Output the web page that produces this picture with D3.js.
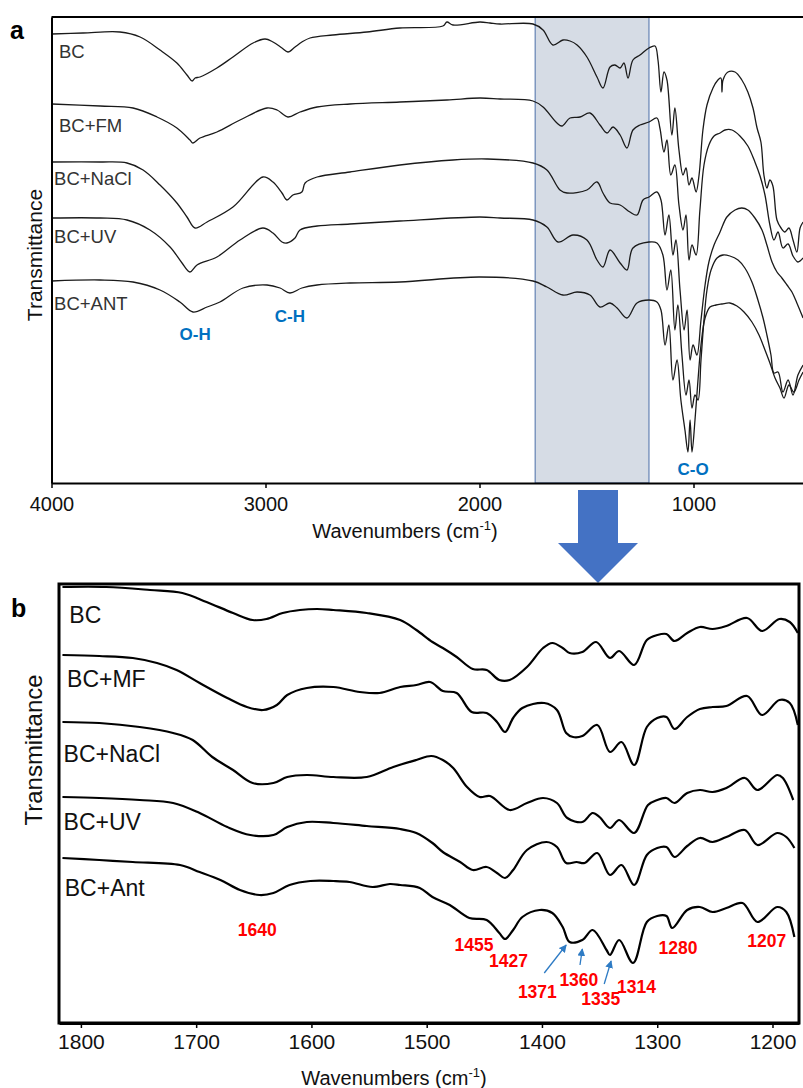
<!DOCTYPE html>
<html>
<head>
<meta charset="utf-8">
<script src="https://cdn.jsdelivr.net/npm/d3@7"></script>
<style>
  body { margin: 0; background: #fff; }
  svg { display: block; font-family: "Liberation Sans", Arial, sans-serif; }
</style>
</head>
<body>
<svg id="chart" width="803" height="1088"></svg>
<script>
// ---- data: [wavenumber cm-1, transmittance (a.u., spectra offset)] ----
const seriesA = ["BC", "BC+FM", "BC+NaCl", "BC+UV", "BC+ANT"];
const bcA = [[3998,89.8],[3853,90.0],[3680,90.2],[3586,89.2],[3493,86.6],[3414,84.0],[3367,81.6],[3343,80.4],[3329,81.0],[3306,81.2],[3227,83.0],[3152,85.2],[3058,88.0],[3002,88.8],[2965,88.2],[2923,87.0],[2895,86.2],[2862,87.2],[2830,88.2],[2792,89.0],[2685,89.6],[2526,90.2],[2372,91.0],[2171,91.4],[2152,92.2],[2124,91.6],[1998,92.2],[1951,92.0],[1904,91.8],[1750,91.8],[1703,90.6],[1657,87.6],[1610,88.6],[1577,88.4],[1544,87.6],[1498,85.2],[1451,81.2],[1423,79.0],[1390,83.2],[1367,83.6],[1343,83.0],[1325,84.0],[1306,81.0],[1283,84.6],[1250,85.6],[1208,87.0],[1180,87.4],[1166,84.6],[1152,78.2],[1138,82.2],[1124,80.6],[1101,69.6],[1087,75.0],[1068,66.6],[1049,61.6],[1035,63.0],[1021,59.6],[1007,61.0],[988,58.2],[974,61.6],[956,70.6],[937,75.6],[909,79.0],[886,80.6],[872,81.0],[867,78.2],[862,80.6],[839,82.2],[806,82.2],[774,80.6],[746,78.2],[722,75.0],[703,71.0],[685,68.2],[671,61.6],[657,59.0],[643,60.6],[629,59.4],[610,52.6],[591,51.0],[573,50.2],[554,51.0],[535,48.6],[517,46.2],[502,51.0],[488,52.2]];
const fmA = [[3998,75.8],[3773,75.4],[3619,75.0],[3507,73.2],[3414,71.0],[3353,68.6],[3339,68.0],[3306,69.0],[3227,70.2],[3119,72.6],[2993,75.0],[2946,74.6],[2895,73.2],[2839,74.2],[2759,75.2],[2605,75.8],[2372,76.2],[2152,76.6],[1998,77.0],[1904,76.8],[1750,76.4],[1703,75.2],[1638,72.0],[1615,71.4],[1577,73.0],[1530,73.2],[1484,74.0],[1437,71.6],[1404,70.0],[1376,71.2],[1343,69.6],[1311,67.0],[1283,70.6],[1250,71.6],[1208,72.2],[1171,73.0],[1157,71.0],[1138,66.2],[1124,68.6],[1106,61.6],[1087,63.6],[1068,55.6],[1049,50.6],[1035,53.6],[1021,44.6],[1007,47.6],[988,45.6],[970,54.6],[951,63.6],[928,67.6],[904,69.4],[876,70.0],[853,70.6],[820,70.6],[783,69.4],[746,67.4],[713,64.2],[689,61.4],[666,57.6],[643,51.6],[624,48.6],[605,50.2],[582,47.0],[558,47.8],[535,45.4],[512,44.2],[488,45.0]];
const naclA = [[3998,64.2],[3773,64.2],[3647,64.0],[3572,62.6],[3493,59.6],[3414,56.0],[3367,53.2],[3329,51.0],[3273,52.2],[3152,55.2],[3012,61.2],[2965,60.2],[2923,58.0],[2900,56.6],[2872,57.6],[2830,58.2],[2815,60.0],[2759,61.2],[2605,62.2],[2372,63.6],[2124,64.6],[1965,64.8],[1750,64.0],[1685,62.6],[1624,58.6],[1591,58.0],[1498,58.6],[1451,60.2],[1423,58.0],[1390,56.0],[1343,55.6],[1297,54.2],[1264,53.6],[1236,56.6],[1208,57.2],[1171,58.2],[1152,56.6],[1133,49.6],[1115,53.6],[1096,45.6],[1082,48.6],[1063,38.6],[1044,30.6],[1030,34.6],[1016,24.6],[1002,27.6],[984,25.6],[965,32.6],[946,39.6],[928,44.2],[904,47.6],[876,50.2],[844,53.2],[806,54.6],[774,55.0],[746,54.6],[713,53.0],[680,50.6],[657,47.6],[633,44.2],[610,42.2],[587,41.0],[563,39.6],[540,38.2],[517,36.0],[488,33.0]];
const uvA = [[3998,53.0],[3773,53.0],[3647,52.6],[3540,50.6],[3446,47.2],[3390,44.0],[3353,42.2],[3320,43.6],[3227,45.2],[3119,48.6],[3012,51.0],[2965,50.0],[2923,48.2],[2900,48.0],[2862,49.0],[2839,50.6],[2759,51.4],[2605,51.8],[2372,52.4],[1998,53.2],[1904,53.0],[1750,52.6],[1685,51.2],[1633,48.2],[1563,49.6],[1498,48.6],[1451,44.6],[1423,43.2],[1390,46.6],[1343,44.0],[1311,42.6],[1283,47.0],[1208,48.2],[1171,48.0],[1143,45.6],[1124,38.6],[1106,42.6],[1087,30.6],[1073,35.6],[1054,25.6],[1035,17.6],[1021,20.6],[1007,15.0],[993,17.6],[979,16.6],[965,24.6],[951,32.6],[937,38.6],[918,42.6],[890,45.0],[862,45.6],[830,45.4],[792,44.6],[760,43.0],[727,40.2],[699,36.6],[675,33.0],[657,29.6],[638,25.6],[624,22.0],[605,22.2],[582,18.2],[558,20.6],[535,17.6],[512,21.6],[488,23.6]];
const antA = [[3998,40.4],[3773,40.6],[3619,40.2],[3493,38.6],[3400,36.2],[3339,34.2],[3273,35.2],[3213,36.2],[3105,39.0],[2993,39.6],[2932,39.0],[2886,38.0],[2830,39.0],[2759,39.6],[2605,40.0],[2372,40.2],[1998,41.2],[1750,40.4],[1685,39.2],[1610,37.6],[1544,38.2],[1484,37.6],[1437,35.2],[1390,36.0],[1357,35.0],[1311,33.0],[1264,36.0],[1208,36.6],[1171,36.2],[1152,34.6],[1133,27.6],[1115,31.6],[1096,20.6],[1077,24.6],[1059,16.6],[1040,10.6],[1026,6.2],[1016,12.6],[1007,6.2],[993,12.6],[979,20.6],[965,27.6],[946,33.0],[923,35.2],[895,35.6],[867,35.8],[830,36.0],[797,35.4],[764,34.2],[727,32.2],[694,29.6],[666,26.6],[643,24.0],[619,21.0],[596,19.0],[577,17.0],[554,19.6],[531,18.2],[507,20.6],[488,22.2]];

const seriesB = ["BC", "BC+MF", "BC+NaCl", "BC+UV", "BC+Ant"];
const bcB = [[1816,87.2],[1778,87.2],[1740,86.6],[1712,86.0],[1691,84.2],[1668,82.0],[1651,80.6],[1639,80.8],[1625,82.0],[1610,82.6],[1595,82.8],[1581,82.6],[1552,82.0],[1523,80.6],[1509,78.6],[1495,76.2],[1486,75.0],[1474,73.2],[1460,70.8],[1448,70.6],[1437,68.6],[1428,68.6],[1413,71.2],[1399,75.0],[1391,76.0],[1382,75.0],[1376,74.0],[1365,74.2],[1353,76.2],[1341,73.0],[1333,74.4],[1320,71.6],[1309,76.6],[1300,77.6],[1292,77.8],[1285,76.4],[1274,78.0],[1263,79.2],[1252,78.8],[1240,79.4],[1222,81.0],[1209,78.4],[1194,80.8],[1185,80.2],[1178,78.0]];
const mfB = [[1816,73.6],[1784,73.4],[1755,73.0],[1734,72.0],[1717,70.6],[1697,68.0],[1673,65.0],[1656,63.2],[1642,62.6],[1630,63.6],[1621,65.6],[1604,67.0],[1581,67.2],[1558,66.2],[1541,66.0],[1523,67.2],[1509,67.6],[1497,68.2],[1486,66.4],[1474,66.0],[1461,62.2],[1448,62.0],[1439,60.2],[1432,58.2],[1425,61.0],[1417,63.0],[1398,64.0],[1387,62.6],[1379,58.0],[1373,57.2],[1365,57.4],[1352,59.6],[1341,54.2],[1331,56.2],[1320,51.6],[1309,59.2],[1300,61.0],[1292,61.2],[1285,58.8],[1274,61.2],[1263,62.8],[1252,63.2],[1240,63.4],[1222,65.4],[1209,61.6],[1194,64.6],[1185,64.0],[1178,59.6]];
const naclB = [[1816,60.2],[1784,60.0],[1749,59.2],[1720,58.0],[1703,56.6],[1686,53.2],[1668,50.6],[1651,48.0],[1633,48.0],[1621,49.2],[1604,49.6],[1581,49.2],[1552,49.2],[1529,51.2],[1509,52.6],[1496,53.4],[1486,52.6],[1477,51.0],[1465,47.2],[1454,45.2],[1445,45.4],[1428,42.6],[1413,44.0],[1399,45.0],[1387,44.0],[1378,41.0],[1365,40.2],[1356,42.0],[1350,41.2],[1341,39.0],[1333,40.6],[1320,38.0],[1308,43.6],[1300,44.6],[1292,45.0],[1285,44.0],[1274,46.0],[1263,46.6],[1252,46.2],[1240,47.0],[1224,49.0],[1213,46.6],[1196,49.6],[1191,49.0],[1182,44.6]];
const uvB = [[1816,45.2],[1784,45.0],[1749,44.6],[1720,44.0],[1697,42.0],[1673,39.2],[1653,37.6],[1633,37.6],[1621,39.2],[1604,40.2],[1581,40.0],[1552,39.4],[1523,38.8],[1509,38.0],[1495,36.0],[1486,34.2],[1471,32.2],[1460,30.6],[1448,31.2],[1439,30.0],[1432,29.0],[1425,30.6],[1413,34.6],[1396,36.2],[1387,35.2],[1379,32.0],[1370,32.2],[1363,32.0],[1352,34.0],[1341,29.6],[1331,31.6],[1320,27.6],[1309,33.6],[1300,35.0],[1292,35.2],[1285,33.2],[1274,35.4],[1263,37.0],[1252,36.2],[1240,37.2],[1224,38.6],[1213,35.6],[1196,38.0],[1188,37.2],[1181,35.0]];
const antB = [[1816,33.0],[1784,32.6],[1755,32.2],[1714,31.6],[1697,30.2],[1679,28.6],[1662,26.6],[1645,25.6],[1633,26.0],[1619,27.6],[1601,28.4],[1581,28.4],[1567,28.2],[1547,27.2],[1532,27.8],[1523,27.6],[1506,27.0],[1495,25.2],[1480,23.6],[1463,21.0],[1448,20.6],[1437,18.0],[1432,16.8],[1425,18.6],[1417,21.2],[1402,22.6],[1391,22.0],[1382,19.2],[1376,16.2],[1365,16.6],[1356,18.6],[1344,14.6],[1341,13.6],[1333,16.6],[1321,12.0],[1309,20.2],[1300,21.4],[1292,21.4],[1287,19.0],[1274,22.6],[1263,23.2],[1252,22.2],[1240,23.0],[1226,24.0],[1213,20.2],[1196,23.2],[1188,22.2],[1181,17.2]];

const ticksA = [4000, 3000, 2000, 1000];
const ticksB = [1800, 1700, 1600, 1500, 1400, 1300, 1200];
const zoomRange = [1740, 1208];
const bands = ["O-H", "C-H", "C-O"];
const peaks = ["1640", "1455", "1427", "1371", "1360", "1335", "1314", "1280", "1207"];

// ---- layout ----
const W = 803, H = 1088;
const boxA = {left: 51.5, right: 821.9, top: 17, bottom: 483};
const boxB = {left: 59, right: 799, top: 584, bottom: 1023};
const labelPosA = [[3965,85.0],[3965,70.2],[3988,59.6],[3988,48.0],[3988,34.6]];
const labelPosB = [[1810,80.0],[1812,67.2],[1815,52.2],[1815,38.6],[1814,25.4]];
const bandPos = [[3329,28.6],[2886,32.2],[1002,1.6]];
const peakPos = [[1647,17.4],[1459,14.4],[1429,11.2],[1404,5.0],[1368,7.4],[1349,3.6],[1318,6.0],[1282,13.8],[1205,15.2]];
const peakArrows = [[1398,10.0,1379,15.6],[1367,11.6,1365,14.8],[1346,7.8,1340,12.4]];

const svg = d3.select("#chart");

const xA = d3.scaleLinear().domain([4000, 400]).range([boxA.left, boxA.right]);
const yA = d3.scaleLinear().domain([0, 93.2]).range([boxA.bottom, boxA.top]);
const xB = d3.scaleLinear().domain([1819, 1177]).range([boxB.left, boxB.right]);
const yB = d3.scaleLinear().domain([0, 87.8]).range([boxB.bottom, boxB.top]);

function lineFor(x, y) {
    return d3.line()
        .x(d => x(d[0]))
        .y(d => y(d[1]))
        .curve(d3.curveCatmullRom.alpha(0.5));
}

// ================= panel a =================
const gA = svg.append("g");

gA.append("rect")
    .attr("x", xA(zoomRange[0]))
    .attr("y", boxA.top)
    .attr("width", xA(zoomRange[1]) - xA(zoomRange[0]))
    .attr("height", boxA.bottom - boxA.top)
    .attr("fill", "#d6dce5")
    .attr("stroke", "#4a6ea8")
    .attr("stroke-width", 1);

const lineA = lineFor(xA, yA);
gA.selectAll(".specA")
    .data([bcA, fmA, naclA, uvA, antA])
    .enter()
    .append("path")
    .attr("class", "specA")
    .attr("d", lineA)
    .attr("fill", "none")
    .attr("stroke", "#1a1a1a")
    .attr("stroke-width", 1.3);

// frame: top + left + bottom axis
gA.append("line")
    .attr("x1", boxA.left).attr("x2", W)
    .attr("y1", boxA.top).attr("y2", boxA.top)
    .attr("stroke", "#000").attr("stroke-width", 2.2);

gA.append("g")
    .attr("transform", "translate(" + boxA.left + ",0)")
    .call(d3.axisLeft(yA).tickValues([]).tickSizeOuter(0))
    .select(".domain").attr("stroke-width", 2);

const axA = gA.append("g")
    .attr("transform", "translate(0," + boxA.bottom + ")")
    .call(d3.axisBottom(xA).tickValues(ticksA).tickFormat(d3.format("d"))
        .tickSize(5).tickPadding(9).tickSizeOuter(0));
axA.select(".domain").attr("stroke-width", 2);
axA.selectAll(".tick line").attr("stroke-width", 1.5);
axA.selectAll("text")
    .attr("font-family", "Liberation Sans, Arial, sans-serif")
    .attr("font-size", 20)
    .attr("fill", "#111");

gA.selectAll(".labA")
    .data(seriesA)
    .enter()
    .append("text")
    .text(d => d)
    .attr("x", (d, i) => xA(labelPosA[i][0]))
    .attr("y", (d, i) => yA(labelPosA[i][1]))
    .attr("font-size", 18.5)
    .attr("fill", "#333");

gA.selectAll(".bandA")
    .data(bands)
    .enter()
    .append("text")
    .text(d => d)
    .attr("x", (d, i) => xA(bandPos[i][0]))
    .attr("y", (d, i) => yA(bandPos[i][1]))
    .attr("text-anchor", "middle")
    .attr("font-size", 17)
    .attr("font-weight", "bold")
    .attr("fill", "#0070c0");

gA.append("text")
    .text("a")
    .attr("x", 10).attr("y", 39)
    .attr("font-size", 25).attr("font-weight", "bold");

gA.append("text")
    .text("Transmittance")
    .attr("transform", "translate(42,255) rotate(-90)")
    .attr("text-anchor", "middle")
    .attr("font-size", 21)
    .attr("fill", "#111");

function axisTitle(g, cx, y) {
    const t = g.append("text")
        .attr("x", cx).attr("y", y)
        .attr("text-anchor", "middle")
        .attr("font-size", 20)
        .attr("fill", "#111");
    t.append("tspan").text("Wavenumbers (cm");
    t.append("tspan").text("-1").attr("font-size", 13).attr("dy", -8);
    t.append("tspan").text(")").attr("dy", 8);
}
axisTitle(gA, 405, 538);

// big blue arrow between the panels
const arrowPts = [[578,490],[618,490],[618,543],[638,543],[598,583],[558,543],[578,543]];
svg.append("path")
    .attr("d", d3.line()(arrowPts) + "Z")
    .attr("fill", "#4472c4");

// ================= panel b =================
const gB = svg.append("g");

const lineB = lineFor(xB, yB);
gB.selectAll(".specB")
    .data([bcB, mfB, naclB, uvB, antB])
    .enter()
    .append("path")
    .attr("class", "specB")
    .attr("d", lineB)
    .attr("fill", "none")
    .attr("stroke", "#000")
    .attr("stroke-width", 2.2);

gB.append("rect")
    .attr("x", boxB.left).attr("y", boxB.top)
    .attr("width", boxB.right - boxB.left)
    .attr("height", boxB.bottom - boxB.top)
    .attr("fill", "none")
    .attr("stroke", "#000")
    .attr("stroke-width", 3);

const axB = gB.append("g")
    .attr("transform", "translate(0," + boxB.bottom + ")")
    .call(d3.axisBottom(xB).tickValues(ticksB).tickFormat(d3.format("d"))
        .tickSize(5).tickPadding(6).tickSizeOuter(0));
axB.select(".domain").attr("stroke-width", 3);
axB.selectAll(".tick line").attr("stroke-width", 1.5);
axB.selectAll("text")
    .attr("font-family", "Liberation Sans, Arial, sans-serif")
    .attr("font-size", 21)
    .attr("fill", "#111");

gB.selectAll(".labB")
    .data(seriesB)
    .enter()
    .append("text")
    .text(d => d)
    .attr("x", (d, i) => xB(labelPosB[i][0]))
    .attr("y", (d, i) => yB(labelPosB[i][1]))
    .attr("font-size", 23)
    .attr("fill", "#111");

svg.append("defs").append("marker")
    .attr("id", "tip")
    .attr("viewBox", "0 0 10 10")
    .attr("refX", 9).attr("refY", 5)
    .attr("markerWidth", 6).attr("markerHeight", 6)
    .attr("orient", "auto")
    .append("path")
    .attr("d", "M0,0L10,5L0,10Z")
    .attr("fill", "#2e7bc4");

gB.selectAll(".peakArrow")
    .data(peakArrows)
    .enter()
    .append("line")
    .attr("x1", d => xB(d[0])).attr("y1", d => yB(d[1]))
    .attr("x2", d => xB(d[2])).attr("y2", d => yB(d[3]))
    .attr("stroke", "#2e7bc4")
    .attr("stroke-width", 1.3)
    .attr("marker-end", "url(#tip)");

gB.selectAll(".peak")
    .data(peaks)
    .enter()
    .append("text")
    .text(d => d)
    .attr("x", (d, i) => xB(peakPos[i][0]))
    .attr("y", (d, i) => yB(peakPos[i][1]))
    .attr("text-anchor", "middle")
    .attr("font-size", 17.5)
    .attr("font-weight", "bold")
    .attr("fill", "#ff0000");

gB.append("text")
    .text("b")
    .attr("x", 11).attr("y", 617)
    .attr("font-size", 25).attr("font-weight", "bold");

gB.append("text")
    .text("Transmittance")
    .attr("transform", "translate(42,750) rotate(-90)")
    .attr("text-anchor", "middle")
    .attr("font-size", 24)
    .attr("fill", "#111");

axisTitle(gB, 394, 1085);
</script>
</body>
</html>
